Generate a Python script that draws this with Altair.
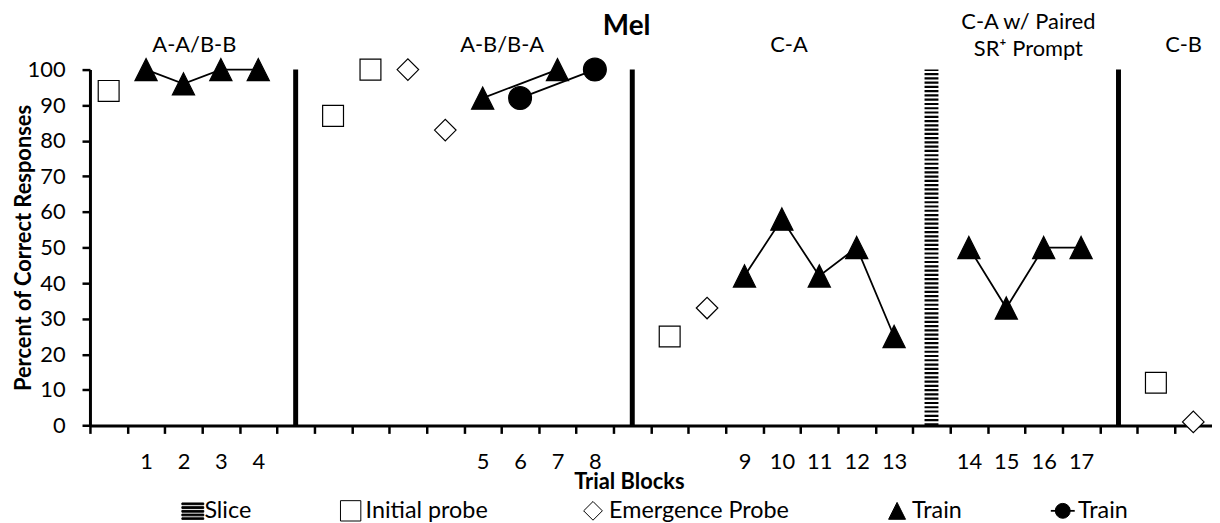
import json
import altair as alt
import pandas as pd

# ---------------- data ----------------
n_slots = 30
slot_labels = ["", "1", "2", "3", "4", "", "", "", "", "", "5", "6", "7", "8", "",
               "", "", "9", "10", "11", "12", "13", "", "14", "15", "16", "17", "", "", ""]

probe_slots = [0, 6, 7, 15, 28]
probe_vals = [94, 87, 100, 25, 12]

emerg_slots = [8, 9, 16, 29]
emerg_vals = [100, 83, 33, 1]

tri_slots = [1, 2, 3, 4, 10, 12, 17, 18, 19, 20, 21, 23, 24, 25, 26]
tri_vals = [100, 96, 100, 100, 92, 100, 42, 58, 42, 50, 25, 50, 33, 50, 50]
tri_seg = [1, 1, 1, 1, 2, 2, 3, 3, 3, 3, 3, 4, 4, 4, 4]

circ_slots = [11, 13]
circ_vals = [92, 100]
circ_seg = [5, 5]

phase_change_slots = [5, 14, 27]
slice_slots = [22]

phase_labels = ["A-A/B-B", "A-B/B-A", "C-A", "C-A w/ Paired", "SR\u207a Prompt", "C-B"]
chart_title = "Mel"
series_names = ["Slice", "Initial probe", "Emergence Probe", "Train", "Train"]

# ---------------- layout (positions in axis units, kept apart from the data) ----------------
phase_label_x = [2.29, 10.52, 18.19, 24.59, 24.59, 28.74]
phase_label_y = [107.0, 107.0, 107.0, 113.5, 105.8, 107.0]
title_x, title_y = [13.85], [112.0]

legend_row_y = -24.0
legend_icon_x = [2.25, 6.47, 12.95, 21.08, 25.51]
legend_text_x = [2.56, 6.87, 13.38, 21.48, 25.92]
legend_line_x = [25.19, 25.83]

W = 1129.5
H = 358.2
cw = W / n_slots
FONT = "Lato"

TRI = "M0,-1L1,1L-1,1Z"
SLICE = ("M-1,-0.72H1V-0.56H-1Z M-1,-0.38H1V-0.22H-1Z M-1,-0.04H1V0.12H-1Z "
         "M-1,0.30H1V0.46H-1Z M-1,0.64H1V0.78H-1Z")
icon_shapes = [SLICE, "square", "diamond", TRI, "circle"]
icon_fills = ["black", "white", "white", "black", "black"]
icon_sizes = [484, 225, 230, 420, 180]

# ---------------- tables ----------------
pts = pd.concat([
    pd.DataFrame({"slot": probe_slots, "value": probe_vals, "series": "probe"}),
    pd.DataFrame({"slot": emerg_slots, "value": emerg_vals, "series": "emerg"}),
    pd.DataFrame({"slot": tri_slots, "value": tri_vals, "series": "tri"}),
    pd.DataFrame({"slot": circ_slots, "value": circ_vals, "series": "circ"}),
], ignore_index=True)
series_keys = ["probe", "emerg", "tri", "circ"]

lines = pd.concat([
    pd.DataFrame({"slot": tri_slots, "value": tri_vals, "seg": tri_seg}),
    pd.DataFrame({"slot": circ_slots, "value": circ_vals, "seg": circ_seg}),
], ignore_index=True)

phase_df = pd.DataFrame({"slot": phase_change_slots})
slice_df = pd.DataFrame({"slot": slice_slots})
lab_df = pd.DataFrame({"slot": phase_label_x, "value": phase_label_y, "label": phase_labels})
title_df = pd.DataFrame({"slot": title_x, "value": title_y, "label": [chart_title]})

leg_icons = pd.DataFrame({"slot": legend_icon_x, "value": legend_row_y,
                          "key": [str(i) for i in range(5)]})
leg_text = pd.DataFrame({"slot": legend_text_x, "value": legend_row_y, "label": series_names})
leg_line = pd.DataFrame({"slot": legend_line_x, "value": legend_row_y})

# ---------------- scales / axes ----------------
xscale = alt.Scale(domain=[-0.5, n_slots - 0.5], nice=False, zero=False)
yscale = alt.Scale(domain=[0, 100], nice=False)

xaxis = alt.Axis(
    values=list(range(n_slots)), tickOffset=-cw / 2, labelOffset=cw / 2,
    labelExpr=json.dumps(slot_labels) + "[round(datum.value)]",
    tickSize=8, tickWidth=2.5, tickColor="black", domainWidth=3, domainColor="black",
    labelFont=FONT, labelFontSize=22, labelColor="black", labelPadding=18,
    labelFlush=False, labelOverlap=False, labelBound=False, grid=False,
    title="Trial Blocks", titleFont=FONT, titleFontSize=22, titleFontWeight="bold",
    titleColor="black", titleX=542.5, titleY=56, titleBaseline="middle",
    titleAlign="center",
)
yaxis = alt.Axis(
    values=list(range(0, 101, 10)), tickSize=8, tickWidth=2.5, tickColor="black",
    domainWidth=3, domainColor="black", labelFont=FONT, labelFontSize=22,
    labelColor="black", labelPadding=17, grid=False,
    title="Percent of Correct Responses", titleFont=FONT, titleFontSize=22,
    titleFontWeight="bold", titleColor="black", titleX=-67, titleY=H / 2,
    titleAngle=270, titleAlign="center", titleBaseline="middle",
)

X = alt.X("slot:Q", scale=xscale, axis=xaxis)
Y = alt.Y("value:Q", scale=yscale, axis=yaxis)

phase_rules = alt.Chart(phase_df).mark_rule(color="black", strokeWidth=5).encode(
    x=X, y=alt.datum(0, scale=yscale, axis=yaxis), y2=alt.datum(100)
)
slice_rule = alt.Chart(slice_df).mark_rule(
    color="black", strokeWidth=14, strokeDash=[2.2, 2.1], strokeCap="butt"
).encode(x=X, y=alt.datum(0, scale=yscale, axis=yaxis), y2=alt.datum(100))

line_layer = alt.Chart(lines).mark_line(color="black", strokeWidth=1.8).encode(
    x=X, y=Y, detail="seg:N"
)

point_layer = alt.Chart(pts).mark_point(filled=True, stroke="black", strokeWidth=1.2, opacity=1).encode(
    x=X, y=Y,
    shape=alt.Shape("series:N", scale=alt.Scale(domain=series_keys,
                    range=["square", "diamond", TRI, "circle"]), legend=None),
    fill=alt.Fill("series:N", scale=alt.Scale(domain=series_keys,
                  range=["white", "white", "black", "black"]), legend=None),
    size=alt.Size("series:N", scale=alt.Scale(domain=series_keys,
                  range=[441, 529, 484, 330]), legend=None),
)

label_layer = alt.Chart(lab_df).mark_text(font=FONT, fontSize=22, color="black").encode(
    x=X, y=Y, text="label:N"
)
title_layer = alt.Chart(title_df).mark_text(font=FONT, fontSize=28, fontWeight="bold", color="black").encode(
    x=X, y=Y, text="label:N"
)

# ---------------- hand-made legend row ----------------
leg_line_layer = alt.Chart(leg_line).mark_line(color="black", strokeWidth=1.8, clip=False).encode(
    x=X, y=Y
)
leg_icon_layer = alt.Chart(leg_icons).mark_point(
    filled=True, stroke="black", strokeWidth=1, opacity=1, clip=False
).encode(
    x=X, y=Y,
    shape=alt.Shape("key:N", scale=alt.Scale(domain=[str(i) for i in range(5)], range=icon_shapes), legend=None),
    fill=alt.Fill("key:N", scale=alt.Scale(domain=[str(i) for i in range(5)], range=icon_fills), legend=None),
    size=alt.Size("key:N", scale=alt.Scale(domain=[str(i) for i in range(5)], range=icon_sizes), legend=None),
)
leg_text_layer = alt.Chart(leg_text).mark_text(
    font=FONT, fontSize=23.5, color="black", align="left", baseline="middle", clip=False
).encode(x=X, y=Y, text="label:N")

chart = alt.layer(
    phase_rules, slice_rule, line_layer, point_layer, label_layer, title_layer,
    leg_line_layer, leg_icon_layer, leg_text_layer,
).resolve_scale(shape="independent", fill="independent", size="independent").properties(
    width=W, height=H,
    autosize=alt.AutoSizeParams(type="none"),
    padding={"left": 82.5, "top": 60.3, "right": 0, "bottom": 96.5},
    background="white",
).configure_view(stroke=None)

chart.save("out.html", embed_options={"renderer": "svg", "actions": False})
